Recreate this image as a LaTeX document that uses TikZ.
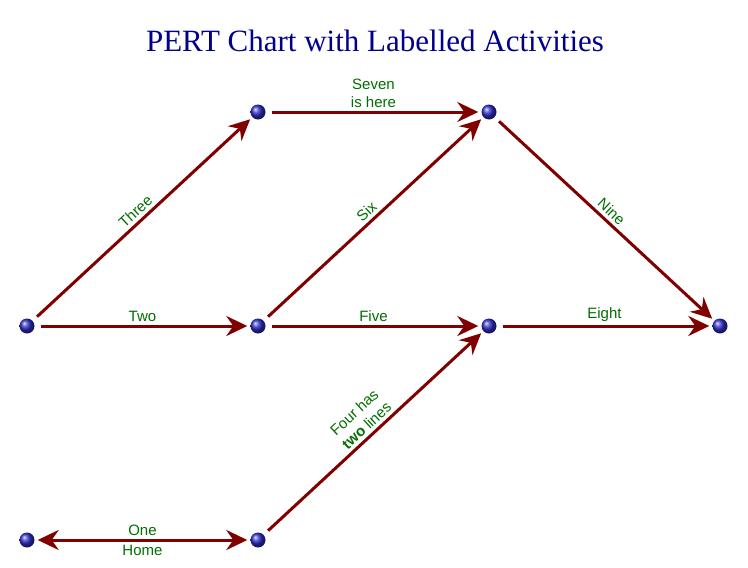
\documentclass[tikz,border=0pt]{standalone}
\usepackage{fontspec}
\setmainfont{Liberation Serif}
\setsansfont{Liberation Sans}
\usetikzlibrary{arrows.meta}

\definecolor{eventblue}{RGB}{45,45,200}
\definecolor{activityred}{RGB}{128,0,0}
\definecolor{labelgreen}{RGB}{0,110,0}
\definecolor{titlenavy}{RGB}{0,0,140}

\tikzset{
  event/.style={circle, shading=ball, ball color=eventblue, minimum size=15pt, inner sep=0pt},
  activity/.style={draw=activityred, line width=3pt,
    -{Stealth[length=21pt, width=20pt, inset=7pt]},
    shorten >=3pt, shorten <=6pt},
  actlabel/.style={text=labelgreen, font=\sffamily\fontsize{15}{18}\selectfont, align=center},
}

\begin{document}
\begin{tikzpicture}[x=1pt, y=-1pt]
        % Fix the page to the reference size
        \useasboundingbox (0,0) rectangle (748,568);

        % Title
        \node[text=titlenavy, font=\fontsize{31}{35}\selectfont] (title) at (375,41) {PERT Chart with Labelled Activities};

        % Events
        \node[event] (e1) at (27,326) {};
        \node[event] (e2) at (258,112) {};
        \node[event] (e3) at (489,112) {};
        \node[event] (e4) at (258,326) {};
        \node[event] (e5) at (489,326) {};
        \node[event] (e6) at (720,326) {};
        \node[event] (e7) at (27,540) {};
        \node[event] (e8) at (258,540) {};

        % Activities
        \draw[activity, {Stealth[length=21pt, width=20pt, inset=7pt]}-{Stealth[length=21pt, width=20pt, inset=7pt]}, shorten <=3pt]
            (e7) -- node[actlabel, above] {One} node[actlabel, below] {Home} (e8);
        \draw[activity] (e1) -- node[actlabel, above] {Two} (e4);
        \draw[activity] (e1) -- node[actlabel, above, sloped] {Three} (e2);
        \draw[activity] (e8) -- node[actlabel, above, sloped, pos=0.5] {Four has\\\textbf{two} lines} (e5);
        \draw[activity] (e4) -- node[actlabel, above] {Five} (e5);
        \draw[activity] (e4) -- node[actlabel, above, sloped] {Six} (e3);
        \draw[activity] (e2) -- node[actlabel, above] {Seven\\is here} (e3);
        \draw[activity] (e5) -- node[actlabel, above] {Eight} (e6);
        \draw[activity] (e3) -- node[actlabel, above, sloped] {Nine} (e6);
\end{tikzpicture}
\end{document}
